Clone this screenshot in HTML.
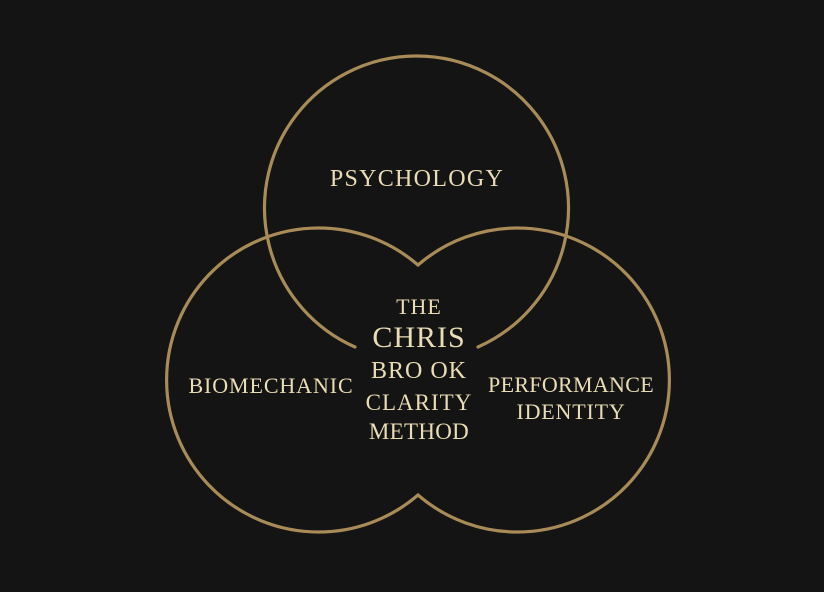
<!DOCTYPE html>
<html><head><style>
html,body{margin:0;padding:0;background:#141414;}
svg{display:block;}
text{font-family:"Liberation Serif",serif;fill:#eadcb4;text-anchor:middle;}
</style></head><body>
<svg width="824" height="592" viewBox="0 0 824 592">
<rect width="824" height="592" fill="#141414"/>
<g fill="none" stroke="#a98b57" stroke-width="3.2" stroke-linecap="round">
<path d="M 355 347 A 152 152 0 1 1 478 347"/>
<path d="M 418 265 A 152 152 0 1 0 418 495"/>
<path d="M 418 265 A 152 152 0 1 1 418 495"/>
</g>
<text x="417" y="186" font-size="24" letter-spacing="1.3">PSYCHOLOGY</text>
<text x="271" y="393" font-size="22" letter-spacing="0.9">BIOMECHANIC</text>
<text x="571" y="392" font-size="22" letter-spacing="0.3">PERFORMANCE</text>
<text x="571" y="419" font-size="22" letter-spacing="0.8">IDENTITY</text>
<text x="419" y="314" font-size="22" letter-spacing="1">THE</text>
<text x="419" y="347" font-size="30" letter-spacing="1">CHRIS</text>
<text x="419" y="378" font-size="24" letter-spacing="1">BRO OK</text>
<text x="419" y="410" font-size="23" letter-spacing="1">CLARITY</text>
<text x="419" y="439" font-size="23" letter-spacing="0.3">METHOD</text>
</svg>
</body></html>
